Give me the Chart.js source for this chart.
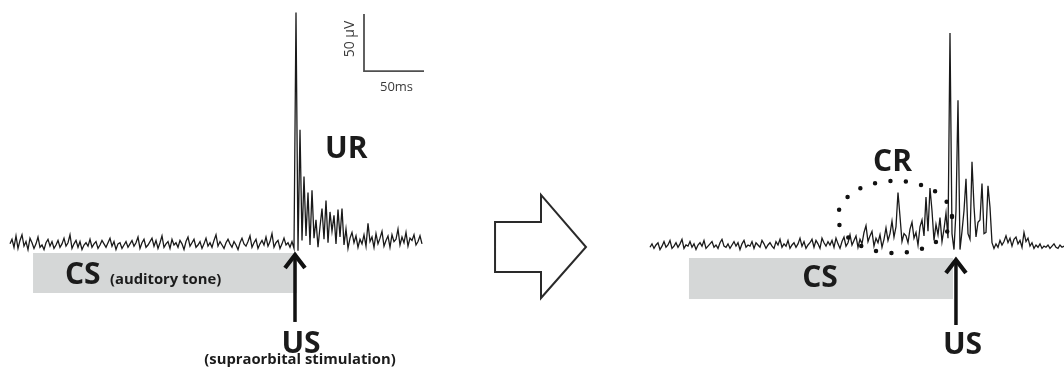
<!DOCTYPE html>
<html>
<head>
<meta charset="utf-8">
<script src="https://cdn.jsdelivr.net/npm/chart.js@4/dist/chart.umd.min.js"></script>
<style>
  html, body { margin: 0; padding: 0; background: #ffffff; }
  #wrap { width: 1064px; height: 380px; }
</style>
</head>
<body>
<div id="wrap"><canvas id="emg" width="1064" height="380"></canvas></div>
<script>
// EMG traces (µV), one sample every SAMPLE_MS
const SAMPLE_MS = 5 / 3;
const LEFT_START_MS = 0;
const RIGHT_START_MS = 533.33;

// Trial before conditioning: CS alone, then the US evokes the unconditioned response (UR)
const leftTrace = [
  1, 5, -2, 8, -3, 4, 9, -1, 3, -4, 6, 2, -3, 1, 7, -2, 0, -4, 2, 5,
  -1, 3, -3, 0, 4, -2, 1, 6, -1, 2, 9, -3, 1, 4, -2, 3, -4, 0, 2, -1,
  5, -2, 1, 3, -3, 0, 4, 1, -2, 2, 6, -1, 3, -4, 1, 2, -3, 0, 3, -2,
  1, 4, -1, 2, 7, -3, 2, 5, -2, 0, 3, 6, -1, 4, -3, 2, 8, -2, 1, 3,
  -3, 5, 0, 2, -2, 4, 1, -4, 3, 7, -1, 2, 5, -2, 0, 3, -3, 1, 6, -1,
  2, -2, 4, 9, -1, 3, 0, -3, 2, 5, 1, -2, 3, 0, -4, 2, 6, 1, -1, 3,
  8, -2, 2, 5, -3, 1, 4, 0, 7, -1, 3, 10, -2, 2, 4, -3, 1, 6, 0, 2,
  -2, 3,
  -3, 204, -5, 101, 4, 60, 8, 46, 0, 48, 6, 22, -2, 16, 32, 5, 39, 2, 29, 12,
  26, 1, 31, 7, 32, 0, 14, -3,
  6, 11, 2, 8, -2, 5, 1, 9, -1, 19, 3, 7, -2, 10, 1, 6, 12, -1, 4, 8,
  -2, 9, 3, 5, 14, 0, 7, 2, 11, -1, 6, 4, 9, 0, 3, 8, 1
];

// Trial after conditioning: a conditioned response (CR) builds up before the US
const rightTrace = [
  -2, 1, -3, 0, 2, -4, -1, 3, -2, 0, 4, -3, -1, 2, -2, 1, 5, -3, 0, -1,
  3, -2, 1, -4, 0, 2, -1, 4, -3, -1, 1, 3, -2, 0, -3, 2, 5, -1, -2, 1,
  -3, 0, 3, -1, 2, -4, 1, 4, -2, 0, -1, 3, -3, 2, 0, -2, 4, 1, -3, 0,
  2, -1, -3, 3, 0, 5, -2, 1, -1, 4, -3, 0, 2, -2, 1, 6, -1, 3, -3, 0,
  2, 5, -2, 4, 1, -3, 6, 2, -1, 3,
  0, 4, -2, 6, 1, -3, 3, 7, -1, 2, 9, 0, 4, 8, -2, 5, 1, 11, 17, 3,
  8, 12, -1, 6, 2, 9, -2, 5, 15, 4, 10, 21, 7, 16, 46, 25, 3, 10, 8, 2,
  14, 20, 6, 11, 0, 16, 22, 8, 42, 12, 50, 30, 4, 18, 9, 24, 3, 14,
  28, 6, 186, 10, -4, 30, 127, -4, 12, 30, 58, 10, 5, 73, 34, 7, 20, 22, 54, 10,
  11, 52, 33, 2, -3,
  1, -2, 4, 0, 3, 8, 2, 6, -1, 5, 7, 1, 4, -2, 11, 3, 6,
  -1, 2, -3, 0, -2, 1, -3, -1, -2, 0, -3, -1, 1, -2, -3, 0, -2, -1
];

// Scale bar lengths
const SCALE_BAR_MS = 50;
const SCALE_BAR_UV = 50;

// Text labels
const labelTexts = {
  cs: 'CS', tone: '(auditory tone)', us: 'US', usNote: '(supraorbital stimulation)',
  ur: 'UR', cr: 'CR', ms: '50ms', uv: '50 µV'
};

function toPoints(values, startMs) {
  return values.map((v, i) => ({ x: startMs + i * SAMPLE_MS, y: v }));
}

const BOLD = '"Open Sans", "Noto Sans", sans-serif';
const INK = '#1b1b1b';

const annotations = {
  id: 'annotations',
  beforeDraw(chart) {
    const ctx = chart.ctx;
    ctx.save();
    ctx.fillStyle = '#ffffff';
    ctx.fillRect(0, 0, chart.width, chart.height);
    ctx.restore();
  },
  beforeDatasetsDraw(chart) {
    const ctx = chart.ctx;
    const X = v => chart.scales.x.getPixelForValue(v);
    const Y = v => chart.scales.y.getPixelForValue(v);
    // CS periods
    ctx.save();
    ctx.fillStyle = '#d5d7d7';
    [[19.2, 239.2, -7.0, -42.1], [565.8, 785.8, -11.4, -47.4]].forEach(([t0, t1, v0, v1]) => {
      ctx.fillRect(X(t0), Y(v0), X(t1) - X(t0), Y(v1) - Y(v0));
    });
    ctx.restore();
  },
  afterDatasetsDraw(chart) {
    const ctx = chart.ctx;
    const X = v => chart.scales.x.getPixelForValue(v);
    const Y = v => chart.scales.y.getPixelForValue(v);

    function text(str, t, v, font, align, color) {
      ctx.font = font;
      ctx.textAlign = align;
      ctx.textBaseline = 'alphabetic';
      ctx.fillStyle = color || INK;
      ctx.fillText(str, X(t), Y(v));
    }

    function upArrow(t, vTip, vTail) {
      const x = X(t), yTip = Y(vTip), yTail = Y(vTail);
      ctx.save();
      ctx.strokeStyle = '#111111';
      ctx.lineWidth = 3.5;
      ctx.beginPath();
      ctx.moveTo(x, yTip + 3);
      ctx.lineTo(x, yTail);
      ctx.stroke();
      ctx.lineWidth = 4.2;
      ctx.lineJoin = 'miter';
      ctx.beginPath();
      ctx.moveTo(x - 10, yTip + 15);
      ctx.lineTo(x, yTip + 2);
      ctx.lineTo(x + 10, yTip + 15);
      ctx.stroke();
      ctx.restore();
    }

    ctx.save();
    // US arrows
    upArrow(237.5, -7.0, -67.5);
    upArrow(788.3, -11.4, -70.2);

    // labels
    text(labelTexts.cs, 45.8, -34.6, 'bold 30px ' + BOLD, 'left');
    text(labelTexts.tone, 83.3, -33.9, 'bold 14.8px ' + BOLD, 'left');
    text(labelTexts.us, 242.5, -94.5, 'bold 30px ' + BOLD, 'center');
    text(labelTexts.usNote, 241.7, -104.0, 'bold 14.8px ' + BOLD, 'center');
    text(labelTexts.ur, 262.5, 76.6, 'bold 30px ' + BOLD, 'left');
    text(labelTexts.cs, 675, -36.6, 'bold 30px ' + BOLD, 'center');
    text(labelTexts.us, 793.75, -95.8, 'bold 30px ' + BOLD, 'center');
    text(labelTexts.cr, 719.2, 65.2, 'bold 30px ' + BOLD, 'left');

    // scale bar: 50 ms by 50 µV
    const cx = X(295), cy = Y(152.6);
    ctx.strokeStyle = '#505050';
    ctx.lineWidth = 1.8;
    ctx.beginPath();
    ctx.moveTo(cx, Y(152.6 + SCALE_BAR_UV));
    ctx.lineTo(cx, cy);
    ctx.lineTo(X(295 + SCALE_BAR_MS), cy);
    ctx.stroke();
    text(labelTexts.ms, 322.1, 135.4, '13px ' + BOLD, 'center', '#3a3a3a');
    ctx.save();
    ctx.translate(X(283.3), Y(180.7));
    ctx.rotate(-Math.PI / 2);
    ctx.font = '14px ' + BOLD;
    ctx.textAlign = 'center';
    ctx.textBaseline = 'middle';
    ctx.fillStyle = '#3a3a3a';
    ctx.fillText(labelTexts.uv, 0, 0);
    ctx.restore();

    // hollow arrow between the two trials
    const outline = [[404.2, 20.2], [442.5, 20.2], [442.5, 43.9], [480, -1.75],
                     [442.5, -46.5], [442.5, -23.7], [404.2, -23.7]];
    ctx.beginPath();
    outline.forEach(([t, v], i) => i ? ctx.lineTo(X(t), Y(v)) : ctx.moveTo(X(t), Y(v)));
    ctx.closePath();
    ctx.fillStyle = '#ffffff';
    ctx.fill();
    ctx.strokeStyle = '#2a2a2a';
    ctx.lineWidth = 2;
    ctx.lineJoin = 'miter';
    ctx.stroke();

    // dotted ring around the CR
    const ex = X(737.5), ey = Y(24.6);
    const rx = X(737.5 + 47.5) - ex, ry = ey - Y(24.6 + 31.6);
    ctx.beginPath();
    ctx.ellipse(ex, ey, rx, ry, 0, 0, Math.PI * 2);
    ctx.setLineDash([0, 15.5]);
    ctx.lineCap = 'round';
    ctx.lineWidth = 4.5;
    ctx.strokeStyle = '#111111';
    ctx.stroke();
    ctx.restore();
  }
};

new Chart(document.getElementById('emg'), {
  type: 'line',
  data: {
    datasets: [
      { data: toPoints(leftTrace, LEFT_START_MS) },
      { data: toPoints(rightTrace, RIGHT_START_MS) }
    ]
  },
  options: {
    responsive: false,
    devicePixelRatio: 1,
    animation: false,
    layout: { padding: 0 },
    elements: {
      line: { borderColor: '#1a1a1a', borderWidth: 1.3, tension: 0, fill: false },
      point: { radius: 0 }
    },
    scales: {
      x: { type: 'linear', display: false, min: -8.333, max: 878.333 },
      y: { type: 'linear', display: false, min: -118.42, max: 214.91 }
    },
    plugins: { legend: { display: false }, tooltip: { enabled: false } }
  },
  plugins: [annotations]
});
</script>
</body>
</html>
